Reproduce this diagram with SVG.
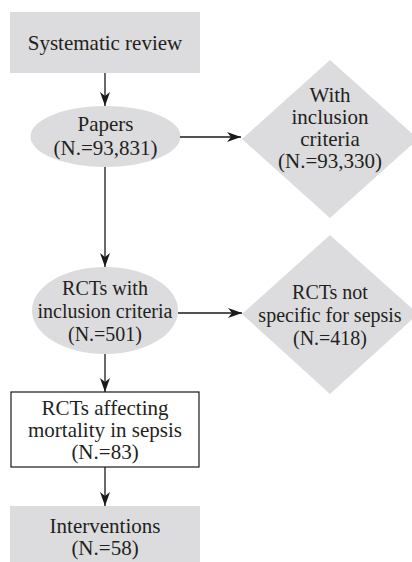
<svg xmlns="http://www.w3.org/2000/svg" width="412" height="562" viewBox="0 0 412 562">
<defs>
<marker id="ah" viewBox="0 0 14 10" refX="14" refY="5" markerWidth="14" markerHeight="10" markerUnits="userSpaceOnUse" orient="auto">
<path d="M0,0 L14,5 L0,10 L4,5 Z" fill="#1a1a1a"/>
</marker>
<style>
.g{fill:#dcdcde;stroke:none}
.w{fill:#fff;stroke:#1a1a1a;stroke-width:1.2}
text{font-family:"Liberation Serif","Times New Roman",serif;font-size:21px;fill:#231f20;text-anchor:middle}
.s text{font-size:20px}
.c{stroke:#1a1a1a;stroke-width:1.3;fill:none;marker-end:url(#ah)}
</style>
</defs>
<g id="n1">
<rect class="g" x="10" y="12" width="190" height="61"/>
<text x="105" y="50">Systematic review</text>
</g>
<g id="n2">
<ellipse class="g" cx="105.5" cy="136.5" rx="75" ry="30.5"/>
<text x="105.5" y="131">Papers</text>
<text x="105.5" y="155">(N.=93,831)</text>
</g>
<g id="n3">
<polygon class="g" points="330,60 418,139 330,218 242,139"/>
<text x="330" y="102">With</text>
<text x="330" y="124">inclusion</text>
<text x="330" y="146">criteria</text>
<text x="330" y="168">(N.=93,330)</text>
</g>
<g id="n4" class="s">
<ellipse class="g" cx="105" cy="310.5" rx="73" ry="43.5"/>
<text x="105" y="295">RCTs with</text>
<text x="105" y="318">inclusion criteria</text>
<text x="105" y="341">(N.=501)</text>
</g>
<g id="n5" class="s">
<polygon class="g" points="330,235 418,314 330,394 242,314"/>
<text x="330" y="299">RCTs not</text>
<text x="330" y="322">specific for sepsis</text>
<text x="330" y="345">(N.=418)</text>
</g>
<g id="n6">
<rect class="w" x="11" y="392" width="188" height="75"/>
<text x="105" y="415">RCTs affecting</text>
<text x="105" y="437">mortality in sepsis</text>
<text x="105" y="459">(N.=83)</text>
</g>
<g id="n7">
<rect class="g" x="10" y="506" width="190" height="56"/>
<text x="105" y="533">Interventions</text>
<text x="105" y="555">(N.=58)</text>
</g>
<g id="connectors">
<line class="c" x1="105" y1="73" x2="105" y2="106"/>
<line class="c" x1="180" y1="137" x2="241" y2="137"/>
<line class="c" x1="105" y1="167" x2="105" y2="267"/>
<line class="c" x1="178" y1="313" x2="242" y2="313"/>
<line class="c" x1="105" y1="354" x2="105" y2="392"/>
<line class="c" x1="105" y1="467" x2="105" y2="506"/>
</g>
</svg>
